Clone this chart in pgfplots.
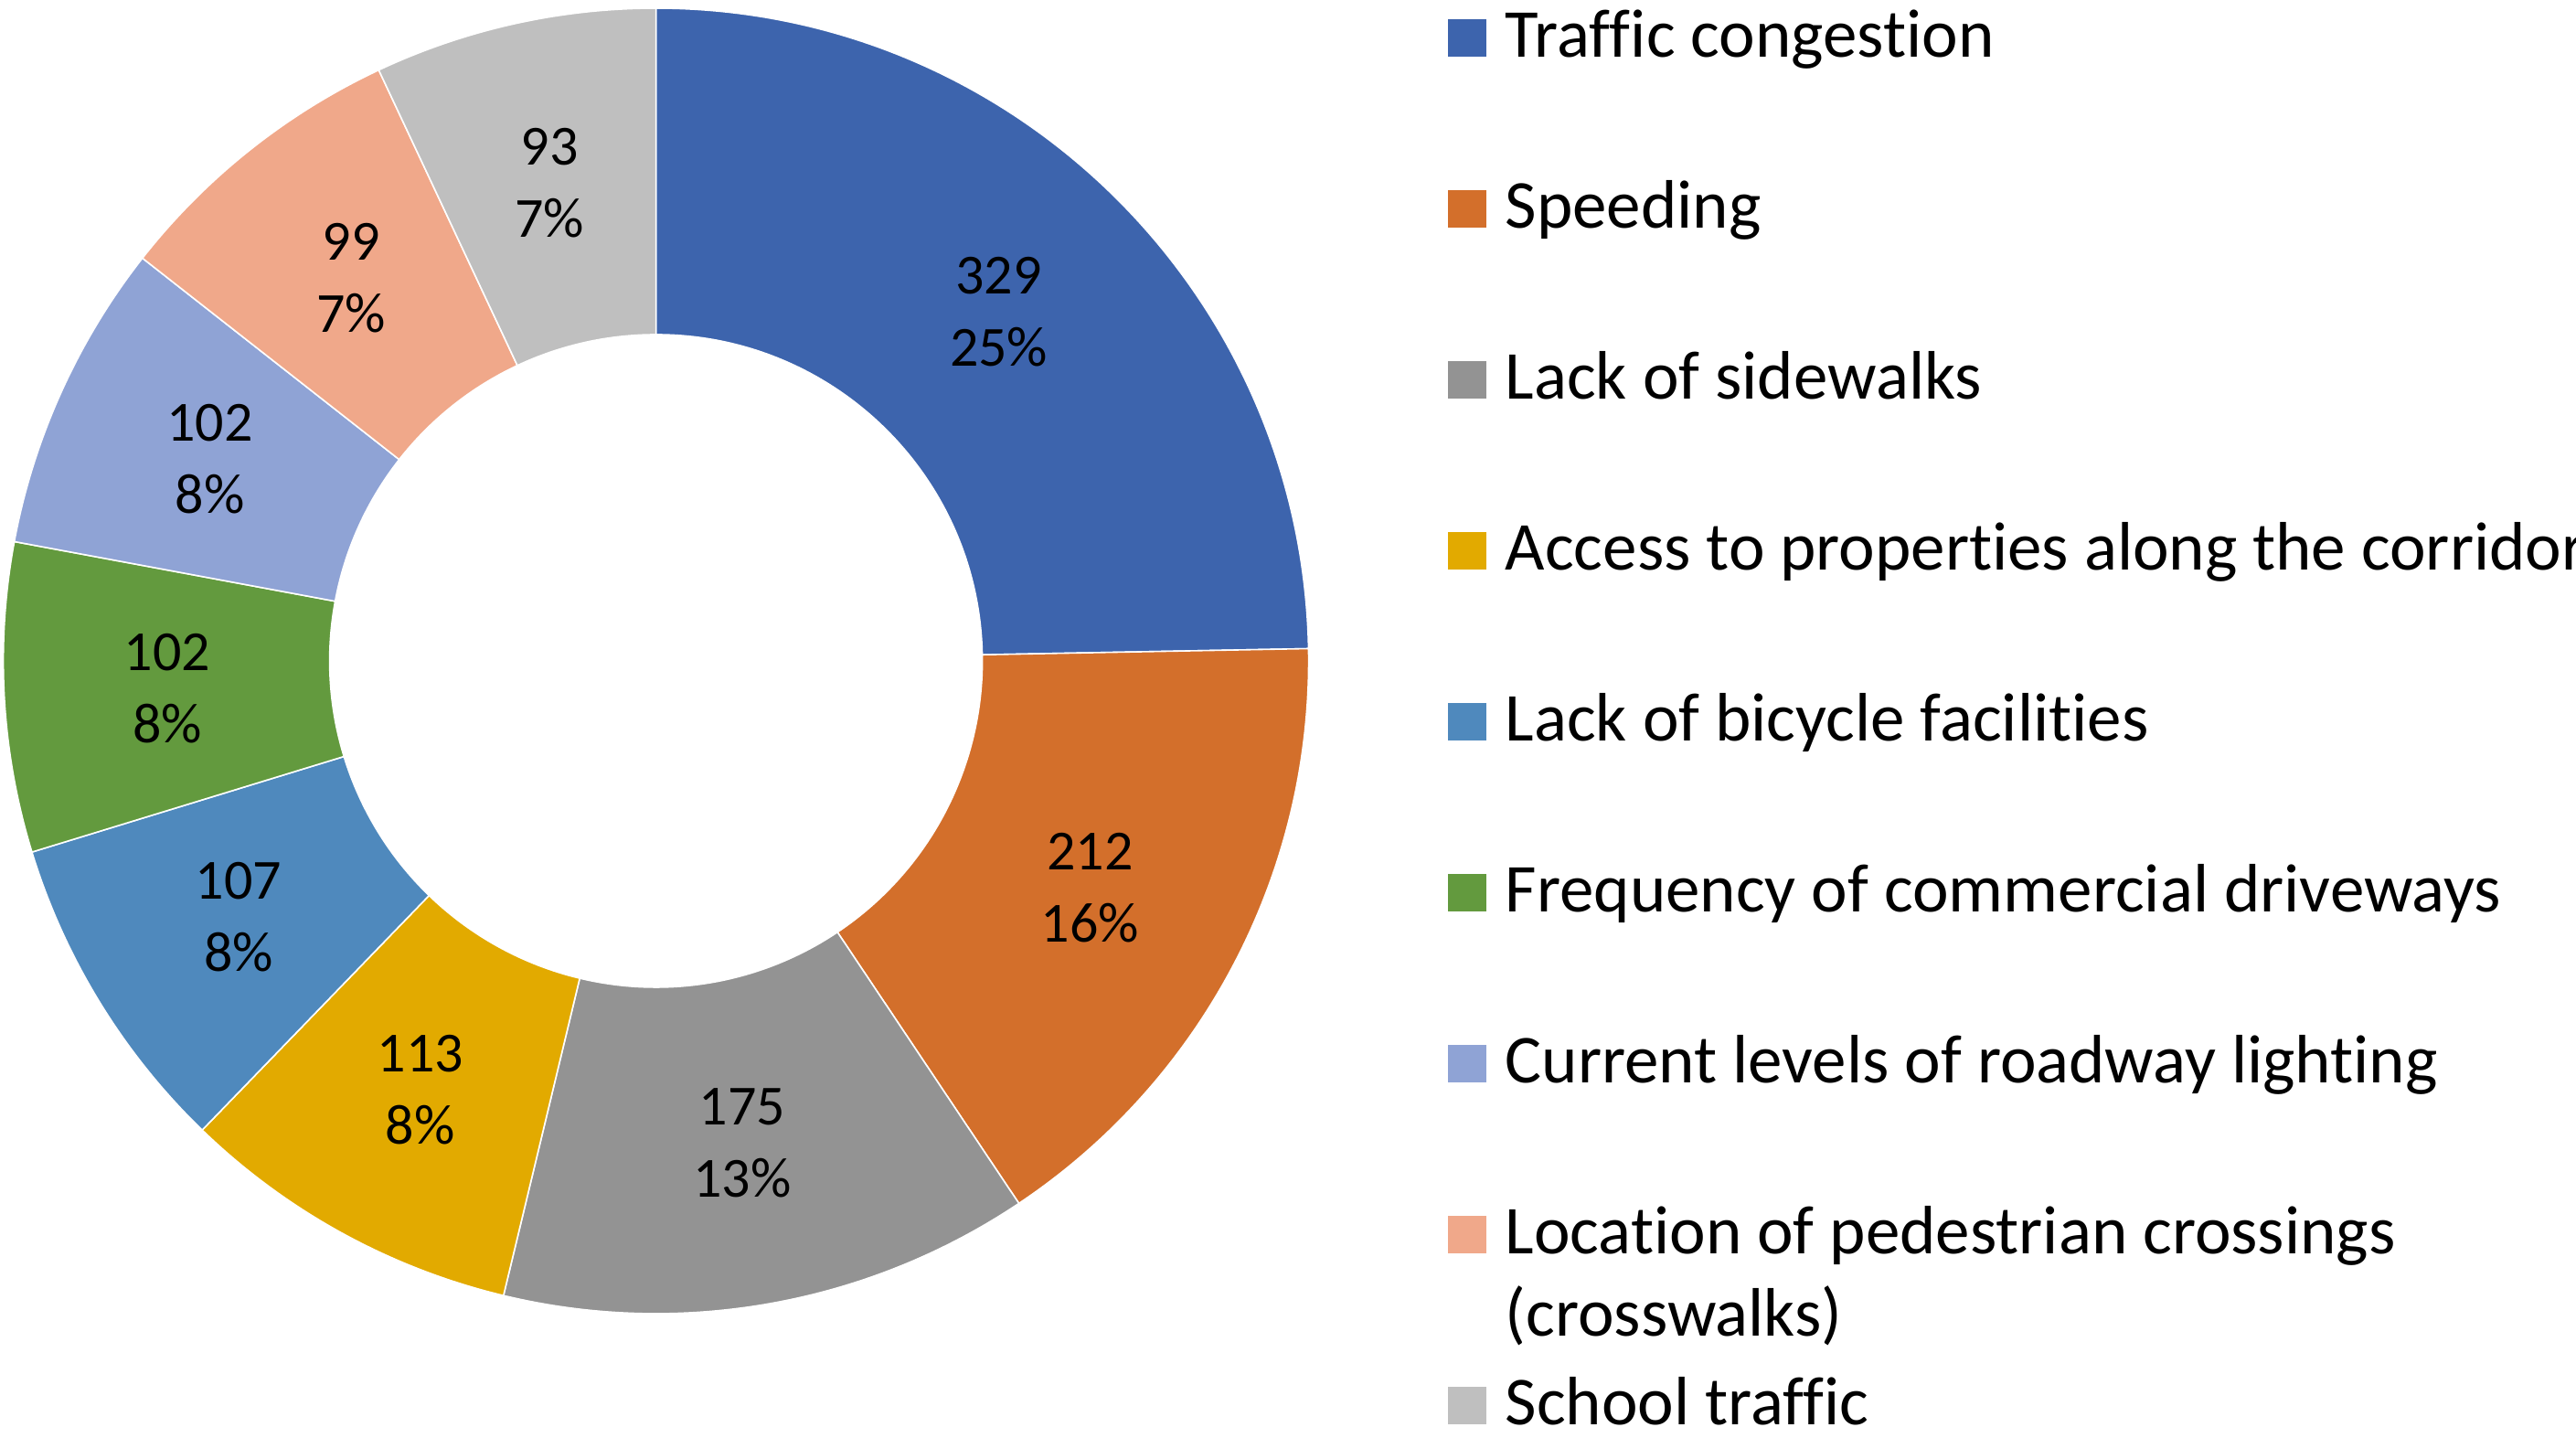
\documentclass[border=0pt]{standalone}
\usepackage{pgfplots}
\pgfplotsset{compat=1.18}
\usepackage{pgfplotstable}
\usepackage{fontspec}
\setmainfont{Carlito}[Ligatures={NoCommon}]

\definecolor{c1}{HTML}{3D64AD}
\definecolor{c2}{HTML}{D36F2B}
\definecolor{c3}{HTML}{939393}
\definecolor{c4}{HTML}{E2AA00}
\definecolor{c5}{HTML}{4F89BD}
\definecolor{c6}{HTML}{639A3E}
\definecolor{c7}{HTML}{8FA3D5}
\definecolor{c8}{HTML}{F0A88A}
\definecolor{c9}{HTML}{BFBFBF}

\newcommand\labelfont{\fontsize{15.5}{19.75}\selectfont}
\newcommand\legendfont{\fontsize{18.75}{22.5}\selectfont}

\pgfplotstableread{
value pct col
329 25 c1
212 16 c2
175 13 c3
113 8 c4
107 8 c5
102 8 c6
102 8 c7
99 7 c8
93 7 c9
}\donutdata

\begin{document}
\begin{tikzpicture}
\useasboundingbox (0,0) rectangle (704.5pt,393.25pt);
\clip (0,0) rectangle (704.5pt,393.25pt);
\begin{axis}[at={(179.4pt,212.5pt)}, anchor=center, width=357pt, height=357pt,
  scale only axis, xmin=-1, xmax=1, ymin=-1, ymax=1, hide axis, clip=false]
\pgfplotstablegetrowsof{\donutdata}
\pgfmathtruncatemacro{\nrows}{\pgfplotsretval-1}
\def\total{0}
\pgfplotsforeachungrouped \i in {0,...,\nrows}{%
  \pgfplotstablegetelem{\i}{value}\of\donutdata
  \pgfmathsetmacro{\total}{\total+\pgfplotsretval}%
}
\def\cum{0}
\pgfplotsforeachungrouped \i in {0,...,\nrows}{%
  \pgfplotstablegetelem{\i}{value}\of\donutdata \let\v\pgfplotsretval
  \pgfplotstablegetelem{\i}{pct}\of\donutdata \let\p\pgfplotsretval
  \pgfplotstablegetelem{\i}{col}\of\donutdata \let\c\pgfplotsretval
  \pgfmathsetmacro{\aA}{90-360*(\cum/\total)}%
  \pgfmathsetmacro{\cum}{\cum+\v}%
  \pgfmathsetmacro{\aB}{90-360*(\cum/\total)}%
  \pgfmathsetmacro{\aM}{(\aA+\aB)/2}%
  \edef\temp{\noexpand\fill[\c, draw=white, line width=0.4pt] (axis cs:{cos(\aA)},{sin(\aA)}) arc[start angle=\aA, end angle=\aB, radius=178.5pt] -- (axis cs:{0.5*cos(\aB)},{0.5*sin(\aB)}) arc[start angle=\aB, end angle=\aA, radius=89.25pt] -- cycle;
  \noexpand\node[align=center, font=\noexpand\labelfont, inner sep=0pt] at (axis cs:{0.75*cos(\aM)},{0.75*sin(\aM)}) {\v\noexpand\\\p\noexpand\%};}%
  \temp
}
\end{axis}
\foreach \n/\col/\txt in {0/c1/{Traffic congestion},1/c2/{Speeding},2/c3/{Lack of sidewalks},3/c4/{Access to properties along the corridor},4/c5/{Lack of bicycle facilities},5/c6/{Frequency of commercial driveways},6/c7/{Current levels of roadway lighting},7/c8/{Location of pedestrian crossings},8/c9/{School traffic}}{
  \fill[\col] (396pt,{377.5pt-46.75pt*\n+0.25pt}) rectangle ++(10.5pt,10.25pt);
  \node[anchor=base west, inner sep=0pt, font=\legendfont] at (411.5pt,{377.5pt-46.75pt*\n}) {\txt};
}
\node[anchor=base west, inner sep=0pt, font=\legendfont] at (411.5pt,{377.5pt-46.75pt*7-22.5pt}) {(crosswalks)};
\end{tikzpicture}
\end{document}
